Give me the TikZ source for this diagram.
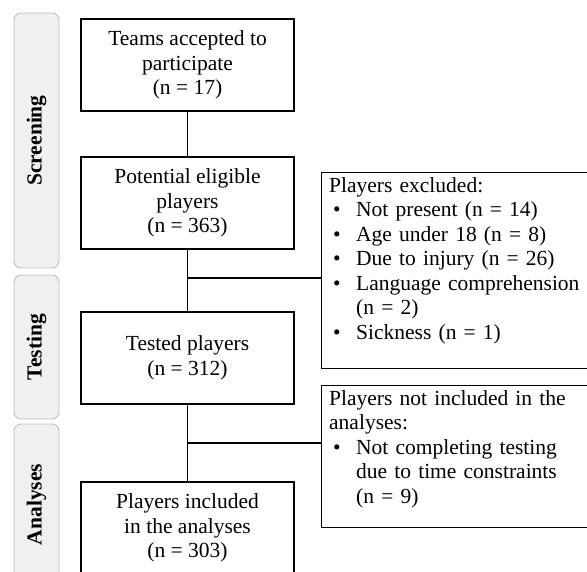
\documentclass[tikz,border=0pt]{standalone}
\usepackage{fontspec}
\setmainfont{Liberation Serif}
\usepackage{tikz}
\usetikzlibrary{shapes, positioning}

\newcommand{\bul}{\makebox[27pt][l]{\hspace{4pt}\textbullet}}
\newcommand{\ind}{\hspace{27pt}}

\begin{document}
\begin{tikzpicture}[x=1pt, y=-1pt,
        box/.style={draw, line width=1.1pt, align=center, inner sep=0pt,
            minimum width=213pt, minimum height=92pt,
            font=\fontsize{21.5pt}{24.5pt}\selectfont},
        sidebox/.style={draw, line width=1.1pt, anchor=north west, minimum width=285pt},
        sidetext/.style={anchor=north west, align=left, inner xsep=8pt, inner ysep=5pt,
            text width=270pt, font=\fontsize{21.5pt}{24.5pt}\selectfont},
        tab/.style={draw=black!25, fill=black!6, line width=0.9pt, rounded corners=7pt,
            rotate=90, minimum height=45pt, inner sep=0pt,
            font=\fontsize{21.5pt}{24.5pt}\selectfont\bfseries},
        link/.style={line width=1.1pt}]
        \useasboundingbox (0, 0) rectangle (587, 572);
        \clip (0, 0) rectangle (587, 572);

        \node[tab, minimum width=255pt] (screening) at (36.5, 140.5) {Screening};
        \node[tab, minimum width=144pt] (testing) at (36.5, 347) {Testing};
        \node[tab, minimum width=161pt] (analyses) at (36.5, 504.5) {Analyses};

        \node[box] (teams) at (187.5, 65) {Teams accepted to\\participate\\(n = 17)};
        \node[box] (eligible) at (187.5, 203) {Potential eligible\\players\\(n = 363)};
        \node[box] (tested) at (187.5, 358) {Tested players\\(n = 312)};
        \node[box] (included) at (187.5, 528) {Players included\\in the analyses\\(n = 303)};

        \node[sidebox, minimum height=196pt] (excluded) at (321, 172) {};
        \node[sidetext] (excludedlist) at (excluded.north west) {Players excluded:\\
            \bul Not present (n = 14)\\
            \bul Age under 18 (n = 8)\\
            \bul Due to injury (n = 26)\\
            \bul Language~comprehension\\
            \ind(n = 2)\\
            \bul Sickness (n = 1)};
        \node[sidebox, minimum height=142pt] (notincl) at (321, 385) {};
        \node[sidetext] (notincllist) at (notincl.north west) {Players not included in the\\
            analyses:\\
            \bul Not completing testing\\
            \ind due to time constraints\\
            \ind(n = 9)};

        \coordinate (split1) at (187.5, 278);
        \coordinate (split2) at (187.5, 443);

        \draw[link] (teams) -- (eligible)
            (eligible) -- (tested)
            (tested) -- (included)
            (split1) -- (split1 -| excluded.west)
            (split2) -- (split2 -| notincl.west);
    \end{tikzpicture}
\end{document}
